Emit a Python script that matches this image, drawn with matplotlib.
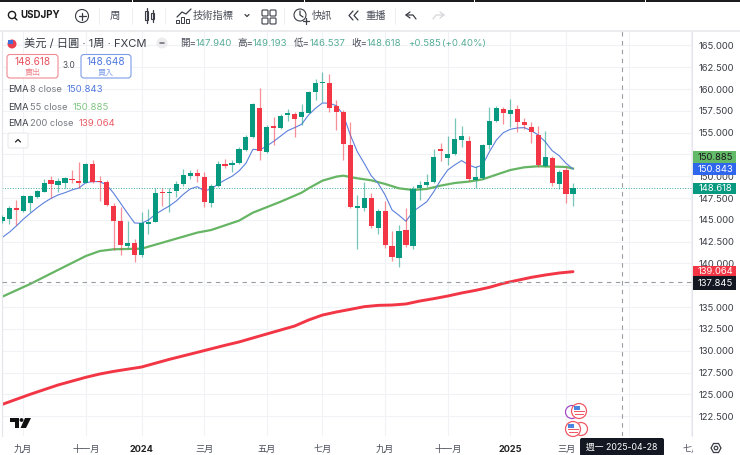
import numpy as np
import pandas as pd
import matplotlib
matplotlib.use('Agg')
import matplotlib.pyplot as plt
from matplotlib.patches import Circle, FancyBboxPatch, Rectangle, Polygon

plt.rcParams['font.family'] = ['Inter', 'Noto Sans CJK TC', 'DejaVu Sans']

# weekly candles, first one 2023-08-14
dates = pd.date_range('2023-08-14', periods=83, freq='W-MON')
opens = [144.84, 145.10, 146.33, 146.02, 146.90, 147.63, 148.24, 149.54, 148.97, 149.27,
         149.73, 149.42, 149.27, 151.41, 149.42, 149.35, 146.63, 144.84, 142.01, 142.31,
         140.94, 144.57, 144.80, 148.20, 148.05, 148.35, 149.12, 150.04, 150.34, 149.92,
         146.98, 148.89, 151.41, 151.26, 151.49, 153.02, 154.47, 157.80, 152.83, 155.73,
         155.54, 157.00, 157.19, 156.84, 157.30, 159.71, 160.70, 160.70, 158.06, 157.34,
         153.63, 146.33, 146.37, 147.55, 144.11, 146.02, 142.05, 140.63, 143.84, 142.05,
         148.62, 148.97, 149.35, 153.17, 152.10, 152.56, 154.17, 154.05, 149.58, 149.77,
         153.55, 156.31, 157.68, 157.11, 157.68, 156.23, 155.62, 154.74, 151.22, 152.14,
         149.12, 150.69, 147.94]
highs = [145.56, 146.60, 147.28, 147.86, 147.86, 148.43, 149.65, 150.07, 149.77, 149.96,
         150.72, 151.68, 151.57, 151.87, 150.07, 149.58, 146.90, 146.52, 144.88, 142.77,
         145.87, 146.21, 148.70, 148.62, 148.62, 149.50, 150.84, 150.72, 150.84, 150.46,
         149.12, 151.76, 151.95, 151.87, 153.32, 154.74, 158.37, 160.17, 155.89, 156.76,
         157.11, 157.68, 157.41, 158.26, 159.82, 161.12, 161.93, 161.73, 158.75, 157.61,
         156.27, 147.86, 149.31, 148.05, 146.21, 147.17, 143.77, 144.42, 146.40, 148.89,
         149.50, 150.27, 153.10, 153.86, 154.66, 156.65, 155.81, 154.66, 151.18, 153.71,
         157.91, 158.10, 157.99, 158.83, 158.14, 156.69, 156.19, 155.81, 155.24, 152.33,
         150.72, 151.03, 149.193]
lows = [144.61, 144.53, 144.42, 145.95, 145.87, 147.47, 148.16, 147.47, 148.24, 148.62,
        149.19, 148.62, 149.19, 149.19, 147.17, 146.63, 141.55, 140.98, 141.74, 140.21,
        140.78, 143.38, 144.72, 146.60, 145.95, 147.59, 148.93, 149.65, 149.39, 146.44,
        146.44, 148.81, 150.92, 150.53, 151.41, 152.94, 154.39, 151.87, 152.71, 153.59,
        155.43, 156.34, 154.47, 155.89, 157.22, 158.75, 158.56, 157.34, 155.31, 151.87,
        146.40, 141.66, 146.06, 144.03, 143.38, 141.78, 140.25, 139.56, 141.93, 141.62,
        147.28, 148.81, 149.27, 151.80, 151.30, 152.45, 153.32, 149.50, 148.62, 149.65,
        153.13, 156.27, 156.00, 155.62, 155.12, 155.39, 153.78, 151.11, 151.11, 148.89,
        148.58, 146.90, 146.537]
closes = [145.30, 146.33, 146.17, 147.74, 147.74, 148.32, 149.27, 149.16, 149.50, 149.81,
          149.58, 149.27, 151.41, 149.39, 149.35, 146.75, 144.91, 142.12, 142.31, 140.94,
          144.61, 144.80, 148.12, 148.09, 148.24, 149.16, 150.15, 150.42, 150.04, 147.02,
          148.93, 151.37, 151.22, 151.57, 153.17, 154.55, 158.26, 152.90, 155.69, 155.58,
          156.96, 157.22, 156.61, 157.34, 159.71, 160.74, 160.78, 157.87, 157.34, 153.71,
          146.48, 146.60, 147.47, 144.30, 146.06, 142.16, 140.71, 143.77, 142.08, 148.58,
          149.00, 149.39, 152.18, 152.87, 152.52, 154.24, 154.66, 149.65, 149.92, 153.55,
          156.31, 157.80, 157.22, 157.64, 156.23, 155.92, 155.12, 151.34, 152.22, 149.20,
          150.53, 147.97, 148.618]

ema8 = [143.00, 143.58, 144.30, 145.07, 145.75, 146.40, 146.98, 147.47, 147.86, 148.12,
        148.43, 148.66, 149.27, 149.39, 149.39, 149.00, 148.05, 146.90, 145.75, 144.65,
        144.61, 144.99, 145.64, 146.14, 146.60, 147.17, 147.93, 148.55, 148.81, 148.35,
        148.51, 149.12, 149.58, 150.00, 150.61, 151.49, 153.09, 153.02, 153.48, 154.01,
        154.62, 155.23, 155.58, 155.96, 157.03, 157.80, 158.41, 158.37, 158.10, 157.03,
        154.74, 152.83, 151.49, 150.07, 149.19, 147.86, 146.14, 145.52, 144.84, 145.95,
        146.52, 147.09, 148.24, 149.58, 150.72, 151.30, 151.80, 151.30, 151.00, 151.30,
        152.83, 154.17, 155.01, 155.39, 155.54, 155.58, 155.24, 154.74, 153.97, 152.94,
        152.37, 151.49, 150.843]
# the slow averages read at fewer candles
ema55_at = [0, 4, 8, 12, 14, 16, 20, 24, 28, 30, 34, 36, 40, 43, 44, 46, 48, 49, 51, 53, 55,
            57, 59, 61, 63, 65, 67, 69, 71, 73, 75, 77, 79, 81, 82]
ema55 = [136.20, 137.65, 139.26, 140.86, 141.43, 141.63, 141.70, 142.62, 143.54, 143.84,
         144.91, 145.83, 147.09, 148.12, 148.62, 149.50, 149.96, 150.07, 149.77, 149.54,
         149.12, 148.62, 148.43, 148.55, 148.93, 149.23, 149.39, 149.65, 150.19, 150.72,
         151.03, 151.15, 151.11, 151.07, 150.885]
ema200_at = [0, 4, 8, 12, 14, 16, 20, 24, 28, 32, 34, 38, 42, 44, 46, 48, 50, 52, 54, 56, 58,
             60, 62, 64, 66, 68, 70, 72, 74, 76, 78, 80, 82]
ema200 = [123.85, 125.00, 126.07, 126.95, 127.33, 127.63, 128.13, 129.01, 129.81, 130.62,
          131.00, 131.92, 132.83, 133.52, 134.09, 134.44, 134.74, 135.05, 135.20, 135.24,
          135.36, 135.70, 135.97, 136.27, 136.62, 136.92, 137.27, 137.73, 138.07, 138.41,
          138.68, 138.91, 139.064]

month_ticks = ['2023-09-04', '2023-11-06', '2024-01-01', '2024-03-04', '2024-05-06', '2024-07-01',
               '2024-09-02', '2024-11-04', '2025-01-06', '2025-03-03', '2025-05-05', '2025-07-07']
# 五月 sits under the crosshair date box in the screenshot
month_labels = ['九月', '十一月', '2024', '三月', '五月', '七月', '九月', '十一月', '2025', '三月', '', '七月']
price_ticks = [122.5, 125, 127.5, 130, 132.5, 135, 137.5, 140, 142.5, 145, 147.5, 150, 152.5, 155,
               157.5, 160, 162.5, 165]
last_price = 148.618
cross_price = 137.845
cross_date = '2025-04-28'

UP = '#089981'
DOWN = '#F23645'
GRID = '#f1f2f5'
GREY = '#4a4e59'

fig = plt.figure(figsize=(7.4, 4.55), dpi=100)
ax = fig.add_axes([2 / 740, 1 - 436 / 455, 690 / 740, 405 / 455])

xs = np.arange(len(opens))
week0 = dates[0]
tick_pos = [(pd.Timestamp(d) - week0).days / 7 for d in month_ticks]
cross_pos = (pd.Timestamp(cross_date) - week0).days / 7

ax.plot(ema200_at, ema200, color=DOWN, lw=2.1, zorder=2, solid_capstyle='round')
ax.plot(ema55_at, ema55, color='#66B564', lw=1.6, zorder=2)
ax.plot(xs, ema8, color='#5C80DC', lw=0.8, zorder=2)

for i in xs:
    col = UP if closes[i] >= opens[i] else DOWN
    ax.vlines(i, lows[i], highs[i], color=col, lw=0.9, alpha=0.55, zorder=3)
    ax.bar(i, abs(closes[i] - opens[i]), bottom=min(opens[i], closes[i]), width=0.74,
           color=col, zorder=4)

ax.axhline(last_price, color=UP, ls=':', lw=0.7, alpha=0.8, zorder=1)
ax.axhline(cross_price, color='#9a9ca3', ls=(0, (4, 4)), lw=0.8, zorder=5)
ax.axvline(cross_pos, color='#9a9ca3', ls=(0, (4, 4)), lw=0.8, zorder=5)

ax.set_xlim(-0.05, 99.1)
ax.set_ylim(120.22, 166.66)
ax.set_xticks(tick_pos)
ax.set_xticklabels(month_labels, fontsize=6.6, color=GREY)
for lab in ax.get_xticklabels():
    if lab.get_text().isdigit():
        lab.set_fontweight('bold')
        lab.set_color('#222222')
ax.yaxis.tick_right()
ax.set_yticks(price_ticks)
# 137.500 is fully hidden by the crosshair price tag
ax.set_yticklabels(['' if p == 137.5 else '%.3f' % p for p in price_ticks], fontsize=6.8, color='#3a3d46')
ax.tick_params(axis='both', length=0)
ax.tick_params(axis='y', pad=5)
ax.tick_params(axis='x', pad=6.5)
ax.grid(True, color=GRID, lw=0.8)
ax.set_axisbelow(True)
for s in ['top', 'bottom']:
    ax.spines[s].set_visible(False)
for s in ['left', 'right']:
    ax.spines[s].set_color('#e3e5ea')
    ax.spines[s].set_linewidth(0.8)

# everything around the chart, in screen pixels
ui = fig.add_axes([0, 0, 1, 1], zorder=5)
ui.set_xlim(0, 740)
ui.set_ylim(455, 0)
ui.axis('off')


def put(x, y, s, size=6.5, color=GREY, ha='left', **kw):
    ui.text(x, y, s, fontsize=size, color=color, ha=ha, va='center', **kw)


def line(xv, yv, color='#3a3d46', lw=0.9):
    ui.plot(xv, yv, color=color, lw=lw, solid_capstyle='round')


def box(x0, y0, x1, y1, face='white', edge='none', lw=0.9, r=2):
    ui.add_patch(FancyBboxPatch((x0 + r, y0 + r), x1 - x0 - 2 * r, y1 - y0 - 2 * r,
                                boxstyle='round,pad=%s,rounding_size=%s' % (r, r),
                                fc=face, ec=edge, lw=lw))


# toolbar
ui.add_patch(Rectangle((0, 0), 740, 30, fc='white', ec='none'))
ui.add_patch(Rectangle((0, 29.5), 740, 2, fc='#ececee', ec='none'))
for x0, x1 in [(0, 132), (133, 304), (305, 474), (475, 645), (646, 740)]:
    ui.add_patch(Rectangle((x0, 0), x1 - x0, 2, fc='#1c1c1e', ec='none'))
ui.add_patch(Circle((12, 15), 3.6, fc='none', ec='#1c1c1e', lw=1))
line([14.6, 17], [17.6, 20], '#1c1c1e', 1)
put(20, 15.5, 'USDJPY', 7, '#1c1c1e', fontweight='bold')
ui.add_patch(Circle((82, 16), 6.5, fc='none', ec='#3a3d46', lw=0.8))
line([78.5, 85.5], [16, 16])
line([82, 82], [12.5, 19.5])
for x in [99, 132, 165, 284, 395]:
    line([x, x], [8, 24], '#eeeef0', 0.7)
put(115, 15.5, '周', 7.5, ha='center')
ui.add_patch(Rectangle((145, 11), 3, 9, fc='none', ec='#3a3d46', lw=0.8))
ui.add_patch(Rectangle((151, 13), 3, 6, fc='none', ec='#3a3d46', lw=0.8))
line([146.5, 146.5], [8, 23])
line([152.5, 152.5], [10, 22])
line([177, 182, 186, 191], [17, 12, 14, 9])
for x, y in [(177, 20), (182, 17), (187, 19)]:
    ui.add_patch(Rectangle((x - 1, y), 3, 23 - y, fc='none', ec='#3a3d46', lw=0.7))
put(193, 15.5, '技術指標', 7.4)
line([245, 247, 249], [14.5, 16.5, 14.5])
for x, y in [(262, 10), (270, 10), (262, 18), (270, 18)]:
    box(x, y, x + 6, y + 6, 'white', '#3a3d46', 0.8, 1)
ui.add_patch(Circle((300, 15), 6, fc='none', ec='#3a3d46', lw=0.8))
line([300, 300, 303], [11, 15, 17])
line([303, 309], [21, 21])
line([306, 306], [18, 24])
put(312, 15.5, '快訊', 7.4)
line([353, 349, 353], [11, 15.5, 20])
line([358, 354, 358], [11, 15.5, 20])
put(365, 15.5, '重播', 7.4)
line([410, 406, 410], [12, 15, 18])
line([406, 413, 416], [15, 15, 19])
line([440, 444, 440], [12, 15, 18], '#d5d6da')
line([444, 436, 433], [15, 15, 19], '#d5d6da')

# symbol row
ui.add_patch(Circle((12, 44), 4.5, fc='#e8404f', ec='none'))
ui.add_patch(Rectangle((8, 40), 5, 3.5, fc='#3f6fd8', ec='none'))
put(24, 43.5, '美元 / 日圓 · 1周 · FXCM', 8.1, '#3a3d46')
ui.add_patch(Circle((162, 43), 5.5, fc='#ececee', ec='none'))
line([160, 164], [43, 43], '#666a73', 1.1)
ohlc_text = [(180, '開=', GREY), (196, '147.940', '#55ad97'), (237, '高=', GREY), (253, '149.193', '#55ad97'),
             (294, '低=', GREY), (310, '146.537', '#55ad97'), (351, '收=', GREY), (367, '148.618', '#55ad97'),
             (408, '+0.585', '#55ad97'), (442, '(+0.40%)', '#55ad97')]
for x, s, c in ohlc_text:
    put(x, 43.5, s, 6.9, c)

# bid / ask boxes
box(7, 54.5, 58, 78, 'white', '#f08a93', 0.8, 3)
box(81, 54.5, 131, 78, 'white', '#7d9de8', 0.8, 3)
put(32.5, 62, '148.618', 7.2, '#e8505c', ha='center')
put(32.5, 72, '賣出', 5.8, '#ef8790', ha='center')
put(106, 62, '148.648', 7.2, '#4f78dd', ha='center')
put(106, 72, '買入', 5.8, '#7d9de8', ha='center')
put(69, 66, '3.0', 6, ha='center')

# indicator legend
put(8, 90, 'EMA', 6.7, '#3a3d46')
put(30, 90, '8 close', 6.7, '#777a83')
put(67, 90, '150.843', 6.9, '#5078dd')
put(8, 107, 'EMA', 6.7, '#3a3d46')
put(30, 107, '55 close', 6.7, '#777a83')
put(73, 107, '150.885', 6.9, '#80c583')
put(8, 124, 'EMA', 6.7, '#3a3d46')
put(30, 124, '200 close', 6.7, '#777a83')
put(79, 124, '139.064', 6.9, '#ea5a66')
box(8, 133, 28, 148, 'white', '#e6e7ea', 0.7, 2)
line([15.5, 18, 20.5], [142, 139.5, 142], '#222222', 0.9)

# price tags
ui.add_patch(Rectangle((692.5, 436), 48, 19, fc='white', ec='none'))
tags = [(151, 163, '#63ba68', '150.885', '#1c1c1e'), (163, 175, '#2f66ee', '150.843', 'white'),
        (183, 194, '#089981', '148.618', 'white'), (266, 276, '#f23645', '139.064', 'white'),
        (276, 290, '#131722', '137.845', 'white')]
for y0, y1, face, s, c in tags:
    ui.add_patch(Rectangle((693, y0), 43, y1 - y0, fc=face, ec='none'))
    put(715, (y0 + y1) / 2, s, 6.8, c, ha='center')

# crosshair date
box(580, 438, 664, 456, '#131722', 'none', 0, 2)
put(622, 447, '週一 2025-04-28', 6.3, 'white', ha='center')

# gear
ui.add_patch(Polygon([(711, 448), (713.5, 443.5), (718.5, 443.5), (721, 448), (718.5, 452.5), (713.5, 452.5)],
                     fc='none', ec='#3a3d46', lw=0.9))
ui.add_patch(Circle((716, 448), 1.8, fc='none', ec='#3a3d46', lw=0.9))

# logo
ui.add_patch(Polygon([(10, 418), (19, 418), (19, 428), (15, 428), (15, 422), (10, 422)], fc='#111111', ec='none'))
ui.add_patch(Circle((21.5, 420), 1.9, fc='#111111', ec='none'))
ui.add_patch(Polygon([(25, 418), (31, 418), (26, 428), (20.5, 428)], fc='#111111', ec='none'))


# calendar markers
def flag(x, y):
    ui.add_patch(Circle((x, y), 7.5, fc='white', ec='#ef5a66', lw=0.9))
    ui.add_patch(Rectangle((x - 5.5, y - 0.5), 11, 1.4, fc='#ef5a66', ec='none'))
    ui.add_patch(Rectangle((x - 4.5, y + 2.5), 9, 1.4, fc='#ef5a66', ec='none'))
    ui.add_patch(Rectangle((x - 5, y - 5), 6, 4, fc='#4a86e0', ec='none'))


ui.add_patch(Circle((572, 412), 6.5, fc='white', ec='#a24bc0', lw=0.9))
flag(579, 411)
ui.add_patch(Circle((581, 429), 6.5, fc='white', ec='#ef5a66', lw=0.9))
flag(573, 429)

fig.savefig('out.png', dpi=100)
